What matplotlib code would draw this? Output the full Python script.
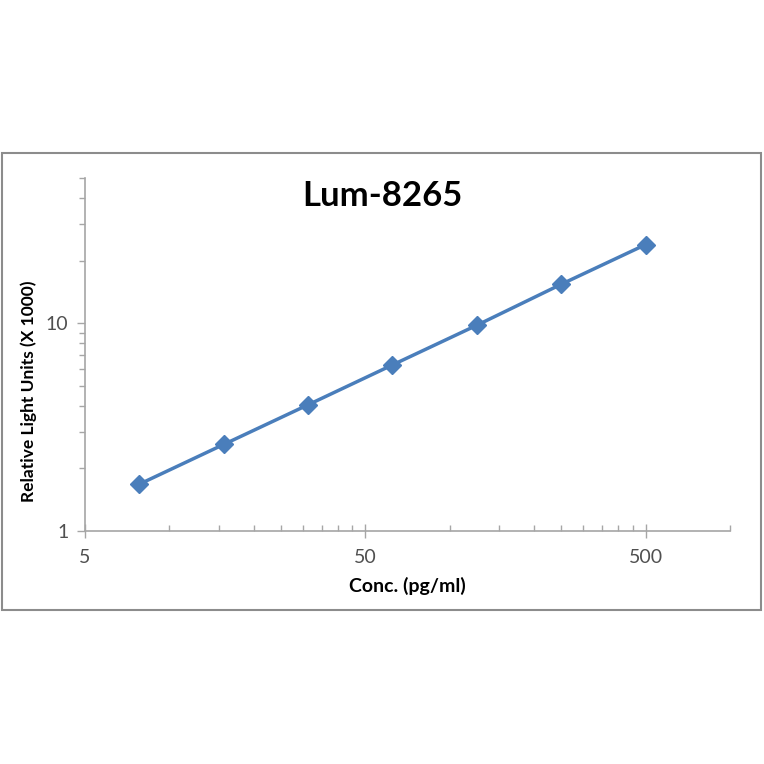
import numpy as np
import matplotlib.pyplot as plt
from matplotlib.patches import Rectangle
from matplotlib.ticker import FixedLocator, FixedFormatter, NullFormatter

# standard curve data
conc = [7.8125, 15.625, 31.25, 62.5, 125, 250, 500]
rlu = [1.68, 2.61, 4.05, 6.3, 9.78, 15.4, 23.9]

x_major = [5, 50, 500]
x_minor = [10, 15, 20, 25, 30, 35, 40, 45, 100, 150, 200, 250, 300, 350, 400, 450, 1000]
y_major = [1, 10]
y_minor = [2, 3, 4, 5, 6, 7, 8, 9, 20, 30, 40, 50]

plt.rcParams['font.family'] = ['Lato', 'DejaVu Sans']

fig = plt.figure(figsize=(7.64, 7.64), dpi=100)
fig.patches.append(Rectangle((0.002, 1 - 610 / 764), 0.994, 457 / 764,
                             transform=fig.transFigure, fill=False,
                             edgecolor='#8c8c8c', linewidth=1.5))

ax = fig.add_axes([85 / 764, 1 - 531 / 764, 645 / 764, 353 / 764])
ax.plot(conc, rlu, color='#4a7ebb', linewidth=2.5, marker='D', markersize=9.5,
        markerfacecolor='#4a7ebb', markeredgecolor='#4a7ebb')

ax.set_xscale('log')
ax.set_yscale('log')
ax.set_xlim(5, 1000)
ax.set_ylim(1, 50)

ax.xaxis.set_major_locator(FixedLocator(x_major))
ax.xaxis.set_major_formatter(FixedFormatter([str(v) for v in x_major]))
ax.xaxis.set_minor_locator(FixedLocator(x_minor))
ax.xaxis.set_minor_formatter(NullFormatter())
ax.yaxis.set_major_locator(FixedLocator(y_major))
ax.yaxis.set_major_formatter(FixedFormatter([str(v) for v in y_major]))
ax.yaxis.set_minor_locator(FixedLocator(y_minor))
ax.yaxis.set_minor_formatter(NullFormatter())

for s in ['top', 'right']:
    ax.spines[s].set_visible(False)
for s in ['left', 'bottom']:
    ax.spines[s].set_color('#a6a6a6')
    ax.spines[s].set_linewidth(1.2)

ax.tick_params(axis='x', which='major', direction='inout', length=10, width=1,
               color='#a6a6a6', labelsize=14, labelcolor='#505050', pad=8)
ax.tick_params(axis='x', which='minor', direction='in', length=4, width=1, color='#a6a6a6')
ax.tick_params(axis='y', which='major', direction='out', length=6, width=1,
               color='#a6a6a6', labelsize=14, labelcolor='#505050', pad=6)
ax.tick_params(axis='y', which='minor', direction='out', length=4, width=1, color='#a6a6a6')

fig.text(0.5, 1 - 196 / 764, 'Lum-8265', fontsize=25, fontweight='bold',
         ha='center', va='center')
ax.set_xlabel('Conc. (pg/ml)', fontsize=14, fontweight='bold', labelpad=8)
ax.set_ylabel('Relative Light Units (X 1000)', fontsize=12.5, fontweight='bold')
ax.yaxis.set_label_coords(-0.075, (531 - 391) / 353)

fig.savefig('out.png', dpi=100)
